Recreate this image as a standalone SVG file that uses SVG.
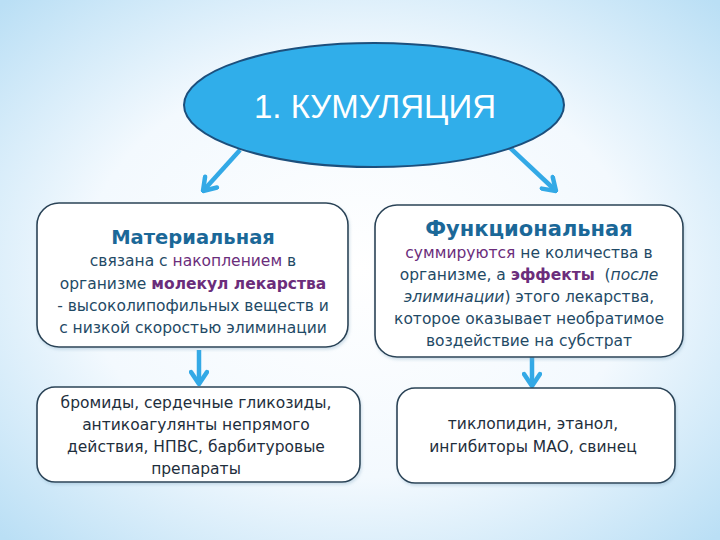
<svg xmlns="http://www.w3.org/2000/svg" width="720" height="540" viewBox="0 0 720 540">
<defs>
<radialGradient id="bg" cx="50%" cy="50%" r="70%">
<stop offset="0" stop-color="#ffffff"/>
<stop offset="0.55" stop-color="#f3f9fe"/>
<stop offset="1" stop-color="#badff5"/>
</radialGradient>
<marker id="chev" markerUnits="userSpaceOnUse" viewBox="0 0 20 20" refX="18" refY="10" markerWidth="20" markerHeight="20" orient="auto">
<path d="M6,2 L18,10 L6,18" fill="none" stroke="#33a9e6" stroke-width="4.5" stroke-linecap="round" stroke-linejoin="round"/>
</marker>
<filter id="sh" x="-10%" y="-10%" width="120%" height="130%">
<feDropShadow dx="1" dy="2" stdDeviation="1.5" flood-color="#7fa6c0" flood-opacity="0.35"/>
</filter>
</defs>
<style>
.box{fill:#ffffff;stroke:#2a4356;stroke-width:1.6;filter:url(#sh)}
.t{font-family:"DejaVu Sans","Liberation Sans",sans-serif;font-size:15.5px;fill:#1f4a66;text-anchor:middle}
.h{font-family:"DejaVu Sans","Liberation Sans",sans-serif;font-weight:bold;fill:#1b6898;text-anchor:middle}
.p{fill:#6b2d7b}
.b{font-weight:bold}
.i{font-style:italic}
.k{fill:#1e2e3c}
.arr{stroke:#33a9e6;stroke-width:4.5;fill:none;marker-end:url(#chev)}
</style>
<rect width="720" height="540" fill="url(#bg)"/>

<g id="connectors">
<line class="arr" x1="240" y1="150" x2="203" y2="191"/>
<line class="arr" x1="508" y1="146" x2="556" y2="191"/>
<line class="arr" x1="199" y1="350" x2="199" y2="384"/>
<line class="arr" x1="532" y1="352" x2="532" y2="386"/>
</g>

<g id="kumulyatsiya">
<ellipse cx="374" cy="105" rx="190" ry="62" fill="#30aeea" stroke="#1c4f7c" stroke-width="2"/>
<text x="375" y="118" font-family="Liberation Sans, Arial, sans-serif" font-size="33" fill="#ffffff" text-anchor="middle">1. КУМУЛЯЦИЯ</text>
</g>

<g id="materialnaya">
<rect class="box" x="37" y="203" width="311" height="144" rx="22"/>
<text class="h" x="193" y="244" font-size="19.5">Материальная</text>
<text class="t" x="193" y="266">связана с <tspan class="p">накоплением</tspan> в</text>
<text class="t" x="193" y="289">организме <tspan class="p b">молекул лекарства</tspan></text>
<text class="t" x="193" y="311">- высоколипофильных веществ и</text>
<text class="t" x="193" y="333">с низкой скоростью элиминации</text>
</g>

<g id="funktsionalnaya">
<rect class="box" x="375" y="205" width="308" height="152" rx="22"/>
<text class="h" x="529" y="236" font-size="21">Функциональная</text>
<text class="t" x="529" y="258"><tspan class="p">суммируются</tspan> не количества в</text>
<text class="t" x="529" y="280">организме, а <tspan class="p b">эффекты</tspan>&#160; (<tspan class="i">после</tspan></text>
<text class="t" x="529" y="302"><tspan class="i">элиминации</tspan>) этого лекарства,</text>
<text class="t" x="529" y="324">которое оказывает необратимое</text>
<text class="t" x="529" y="346">воздействие на субстрат</text>
</g>

<g id="primery-material">
<rect class="box" x="37" y="387" width="323" height="95" rx="18"/>
<text class="t k" x="196" y="408">бромиды, сердечные гликозиды,</text>
<text class="t k" x="196" y="430">антикоагулянты непрямого</text>
<text class="t k" x="196" y="452">действия, НПВС, барбитуровые</text>
<text class="t k" x="196" y="474">препараты</text>
</g>

<g id="primery-funkts">
<rect class="box" x="397" y="388" width="278" height="95" rx="18"/>
<text class="t k" x="533" y="429">тиклопидин, этанол,</text>
<text class="t k" x="533" y="452">ингибиторы МАО, свинец</text>
</g>
</svg>
